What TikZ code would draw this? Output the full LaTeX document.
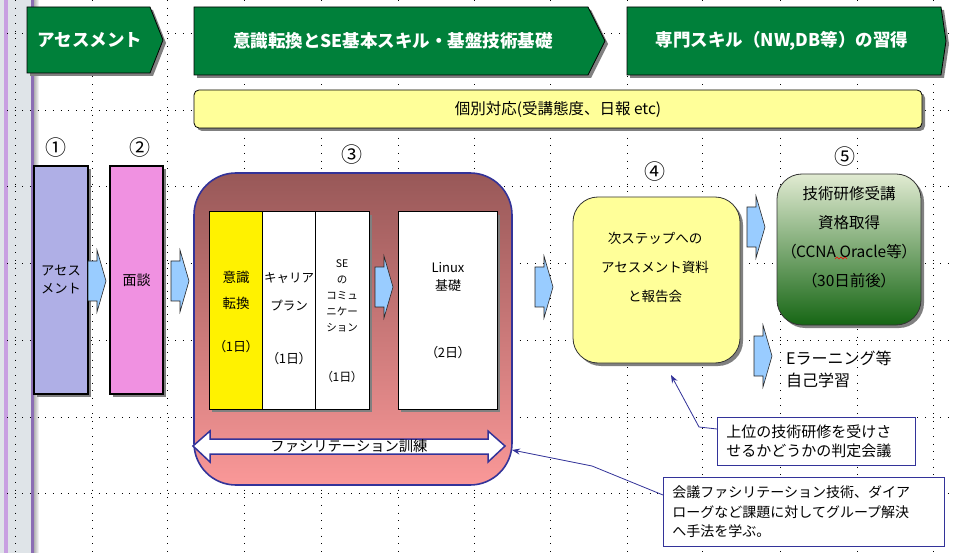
\documentclass[tikz,border=0pt]{standalone}
\usepackage{fontspec}
\setmainfont{Noto Sans CJK JP}
\newfontfamily\jpprop{Noto Sans CJK JP}[RawFeature=+palt]
\usetikzlibrary{shadows,arrows.meta}
\definecolor{bannergreen}{RGB}{0,128,58}
\definecolor{navyline}{RGB}{51,51,153}
\definecolor{arrowblue}{RGB}{153,204,255}
\definecolor{assessblue}{RGB}{175,175,230}
\definecolor{talkpink}{RGB}{240,145,225}
\definecolor{memoyellow}{RGB}{255,255,153}
\definecolor{stripgray}{RGB}{223,228,232}
\definecolor{stripviolet}{RGB}{200,160,225}
\definecolor{stripdark}{RGB}{140,110,180}

\begin{document}
\begin{tikzpicture}[x=1pt,y=-1pt,
  every node/.style={inner sep=0pt,align=center,font=\fontsize{13}{18}\selectfont},
  boxshadow/.style={drop shadow={shadow xshift=3pt,shadow yshift=-3pt,fill=black!50,opacity=1}},
  banner/.style={fill=bannergreen,draw=black,line width=0.8pt,boxshadow},
  bannertext/.style={text=white,font=\fontsize{17.5}{20}\selectfont\bfseries},
  numlabel/.style={font=\fontsize{21}{21}\selectfont},
  stepbox/.style={draw=black,line width=1.1pt,boxshadow,minimum height=228},
  cell/.style={draw=black,line width=1pt,fill=white,boxshadow,minimum height=197},
  roundbox/.style={draw=black!80,line width=0.8pt,rounded corners=25pt,boxshadow},
  bluearrow/.style={fill=arrowblue,draw=black!85,line width=0.6pt},
  callbox/.style={draw=navyline,fill=white,line width=0.9pt,anchor=north west,align=left,inner xsep=9pt},
  callline/.style={draw=navyline,line width=0.8pt,-{Stealth[length=8pt,width=6pt]}},
  gridline/.style={line width=1pt,dash pattern=on 1pt off 6.65pt}
]
\useasboundingbox (0,0) rectangle (953,553);
\fill[white] (0,0) rectangle (953,553);

% left margin strip
\fill[stripgray] (0,0) rectangle (34,553);
\fill[stripviolet] (4,0) rectangle (8,553);
\fill[stripdark] (31,0) rectangle (34,553);
\shade[left color=black!30,right color=white] (34,0) rectangle (39,553);

% guide grid
\foreach \gx in {15,92,167,244,321,398,474,550,627,702,780,857,933}
  \draw[gridline] (\gx,0) -- (\gx,553);
\foreach \gy in {34,111,187,264,340,417,493}
  \draw[gridline] (7,\gy) -- (953,\gy);

% phase banners
\draw[banner] (27,7) -- (150,7) -- (163,40) -- (150,73) -- (27,73) -- cycle;
\node[bannertext] (phase1) at (90,40) {アセスメント};
\draw[banner] (194,7) -- (588,7) -- (605,41) -- (588,75) -- (194,75) -- cycle;
\node[bannertext] (phase2) at (393,41) {意識転換とSE基本スキル・基盤技術基礎};
\draw[banner] (627,7) -- (941,7) -- (946,41) -- (941,75) -- (627,75) -- cycle;
\node[bannertext] (phase3) at (782,41) {専門スキル（NW,DB等）の習得};

\node[fill=memoyellow,draw=black,line width=0.8pt,rounded corners=5pt,boxshadow,
  minimum width=728,minimum height=38,font=\fontsize{15.5}{18}\selectfont] (kobetsu) at (558,109)
  {個別対応(受講態度、日報 etc)};

% steps 1 and 2
\node[numlabel] (n1) at (56,148) {①};
\node[numlabel] (n2) at (140,148) {②};
\node[stepbox,fill=assessblue,minimum width=54,font=\fontsize{13.3}{18}\selectfont] (assess) at (61,280) {アセス\\メント};
\node[stepbox,fill=talkpink,minimum width=53,font=\fontsize{14}{18}\selectfont] (talk) at (136.5,280) {面談};

% step 3
\node[numlabel] (n3) at (352,155) {③};
\node[draw=navyline,line width=1.6pt,rounded corners=42pt,
  top color={rgb,255:red,152;green,88;blue,88},bottom color={rgb,255:red,250;green,152;blue,152},
  minimum width=318,minimum height=312] (basics) at (353,329) {};
\node[cell,fill=yellow,minimum width=53] (col1) at (235.5,310.5) {};
\node[cell,minimum width=53] (col2) at (288.5,310.5) {};
\node[cell,minimum width=54] (col3) at (342,310.5) {};
\node[cell,minimum width=99] (linux) at (447.5,310.5) {};

\node[font=\fontsize{13.5}{26}\selectfont] (c1top) at (236,290) {意識\\転換};
\node[font=\fontsize{13}{18}\selectfont\jpprop] (c1day) at (236,347) {（1日）};
\node[font=\fontsize{12.5}{28}\selectfont] (c2top) at (289,292) {キャリア\\プラン};
\node[font=\fontsize{13}{18}\selectfont\jpprop] (c2day) at (289,359) {（1日）};
\node[font=\fontsize{10.5}{16}\selectfont] (c3top) at (342,296) {SE\\の\\コミュ\\ニケー\\ション};
\node[font=\fontsize{12}{18}\selectfont\jpprop] (c3day) at (342,377) {（1日）};
\node[font=\fontsize{13}{18}\selectfont] (c4top) at (448,277) {Linux\\基礎};
\node[font=\fontsize{13}{18}\selectfont\jpprop] (c4day) at (448,353) {（2日）};

\draw[fill=white,draw=navyline,line width=1.5pt] (193,446) -- (210,431) -- (210,439) -- (488,439)
  -- (488,431) -- (505,446) -- (488,462) -- (488,454) -- (210,454) -- (210,462) -- cycle;
\node[font=\fontsize{14.3}{18}\selectfont] (train) at (349,446) {ファシリテーション訓練};

% step 4
\node[numlabel] (n4) at (655,172) {④};
\node[roundbox,fill=memoyellow,minimum width=167,minimum height=166] (review) at (656.5,280) {};
\node[font=\fontsize{13.5}{29}\selectfont] (reviewtxt) at (655,267) {次ステップへの\\アセスメント資料\\と報告会};

% step 5
\node[numlabel] (n5) at (845,157) {⑤};
\node[roundbox,top color={rgb,255:red,225;green,235;blue,210},bottom color={rgb,255:red,22;green,102;blue,20},
  minimum width=144,minimum height=151] (expert) at (849,249.5) {};
\node[font=\fontsize{15.5}{29}\selectfont] (experttxt) at (849,237)
  {技術研修受講\\資格取得\\{\jpprop（CCNA Oracle等）}\\{\jpprop（30日前後）}};
\draw[red,line width=0.6pt] (835,259) -- (837,257) -- (839,259) -- (841,257) -- (843,259) -- (845,257) -- (847,259);
\node[anchor=west,align=left,font=\fontsize{16}{22}\selectfont] (elearn) at (786,369) {Eラーニング等\\自己学習};

% block arrows
\foreach \ax/\ay in {88/281,171/281,375/287,535/287,747/227,754/356}
  \draw[bluearrow] (\ax,\ay-20) -- ++(9,0) -- ++(0,-11) -- (\ax+18,\ay) -- (\ax+9,\ay+31)
    -- ++(0,-11) -- (\ax,\ay+20) -- cycle;

% call-outs
\node[callbox,text width=180pt,minimum height=48,font=\fontsize{15}{19}\selectfont] (call1) at (717,417)
  {上位の技術研修を受けさ\\せるかどうかの判定会議};
\node[callbox,text width=263pt,minimum height=69,font=\fontsize{14}{19.5}\selectfont] (call2) at (663,477)
  {会議ファシリテーション技術、ダイア\\ローグなど課題に対してグループ解決\\へ手法を学ぶ。};
\coordinate (bend1) at (699,427);
\coordinate (tip1) at (671,375);
\coordinate (bend2) at (592,466);
\coordinate (tip2) at (512,450);
\draw[callline] ([yshift=-12pt]call1.north west) -- (bend1) -- (tip1);
\draw[callline] ([yshift=-18pt]call2.north west) -- (bend2) -- (tip2);

\end{tikzpicture}
\end{document}
